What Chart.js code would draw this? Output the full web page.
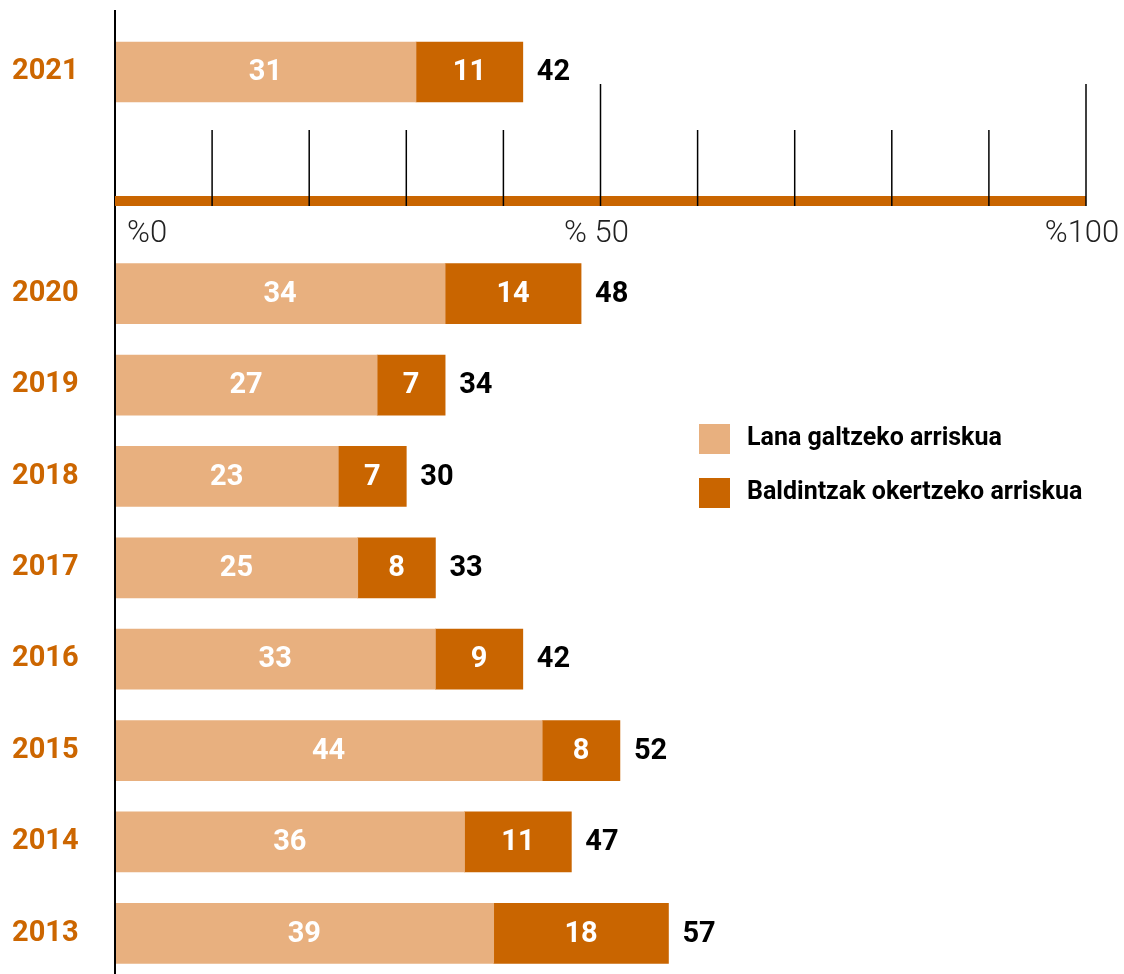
<!DOCTYPE html>
<html>
<head>
<meta charset="utf-8">
<script src="https://cdn.jsdelivr.net/npm/chart.js@4.4.1/dist/chart.umd.min.js"></script>
<style>
  html, body { margin: 0; padding: 0; background: #fff; overflow: hidden; }
  #wrap { position: relative; width: 1124px; height: 974px; overflow: hidden; }
  #wrap canvas { position: absolute; left: 0; top: 0; }
</style>
</head>
<body>
<div id="wrap">
  <canvas id="topChart" width="1124" height="248"></canvas>
  <canvas id="mainChart" width="1124" height="979"></canvas>
</div>
<script>
// 2021 sits above the percentage axis, the other years below it
const topYears = ['2021'];
const topLana = [31];
const topBaldintzak = [11];

const years = ['2020', '2019', '2018', '2017', '2016', '2015', '2014', '2013'];
const lana = [34, 27, 23, 25, 33, 44, 36, 39];
const baldintzak = [14, 7, 7, 8, 9, 8, 11, 18];

const seriesNames = ['Lana galtzeko arriskua', 'Baldintzak okertzeko arriskua'];
const axisTicks = [10, 20, 30, 40, 50, 60, 70, 80, 90, 100];
const axisMajor = [50, 100];
const axisLabelValues = [0, 50, 100];
const axisLabels = ['%0', '% 50', '%100'];

const LIGHT = '#E8B07F';
const DARK = '#C96500';
const YEAR = '#CC6600';
const FONT = 'Roboto, "DejaVu Sans", sans-serif';

// white values inside the segments, black total after the bar
const barLabels = {
  id: 'barLabels',
  afterDatasetsDraw(chart) {
    const ctx = chart.ctx;
    const sets = chart.data.datasets;
    ctx.save();
    ctx.font = '700 29px ' + FONT;
    ctx.textBaseline = 'middle';
    sets.forEach((ds, di) => {
      chart.getDatasetMeta(di).data.forEach((bar, i) => {
        ctx.fillStyle = '#fff';
        ctx.textAlign = 'center';
        ctx.fillText(ds.data[i], (bar.x + bar.base) / 2, bar.y + 1);
      });
    });
    chart.getDatasetMeta(sets.length - 1).data.forEach((bar, i) => {
      const total = sets.reduce((s, d) => s + d.data[i], 0);
      ctx.fillStyle = '#000';
      ctx.textAlign = 'left';
      ctx.fillText(total, bar.x + 14, bar.y + 1);
    });
    ctx.restore();
  }
};

// orange baseline with upward ticks and the % labels
const pctAxis = {
  id: 'pctAxis',
  afterDraw(chart, args, opts) {
    const x = chart.scales.x, ctx = chart.ctx, area = chart.chartArea;
    const x0 = x.getPixelForValue(0), x1 = x.getPixelForValue(100);
    ctx.save();
    ctx.strokeStyle = '#000';
    ctx.lineWidth = 2;
    ctx.beginPath();
    ctx.moveTo(area.left, area.bottom);
    ctx.lineTo(area.left, chart.height);
    ctx.stroke();

    ctx.fillStyle = DARK;
    ctx.fillRect(x0, opts.lineY - 5, x1 - x0, 10);

    ctx.lineWidth = 1.5;
    axisTicks.forEach(v => {
      const px = x.getPixelForValue(v);
      ctx.beginPath();
      ctx.moveTo(px, axisMajor.includes(v) ? opts.majorTop : opts.minorTop);
      ctx.lineTo(px, opts.lineY + 5);
      ctx.stroke();
    });

    ctx.font = '300 31px ' + FONT;
    ctx.fillStyle = '#222';
    ctx.textBaseline = 'middle';
    axisLabelValues.forEach((v, i) => {
      ctx.textAlign = i === 0 ? 'left' : 'center';
      ctx.fillText(axisLabels[i], x.getPixelForValue(v) + (i === 0 ? 12 : -4), opts.labelY);
    });
    ctx.restore();
  }
};

const sideLegend = {
  id: 'sideLegend',
  afterDraw(chart, args, opts) {
    const ctx = chart.ctx;
    ctx.save();
    ctx.font = '700 25px ' + FONT;
    ctx.textBaseline = 'middle';
    ctx.textAlign = 'left';
    chart.data.datasets.forEach((ds, i) => {
      const cy = opts.top + i * opts.gap;
      ctx.fillStyle = ds.backgroundColor;
      ctx.fillRect(opts.left, cy - 15, 31, 30);
      ctx.fillStyle = '#000';
      ctx.fillText(ds.label, opts.left + 48, cy);
    });
    ctx.restore();
  }
};

function makeDatasets(a, b) {
  return [
    { label: seriesNames[0], data: a, backgroundColor: LIGHT, barThickness: 60, borderWidth: 0 },
    { label: seriesNames[1], data: b, backgroundColor: DARK, barThickness: 60, borderWidth: 0 }
  ];
}

function makeOptions(padding, extraPlugins) {
  return {
    indexAxis: 'y',
    responsive: false,
    animation: false,
    layout: { padding: padding },
    scales: {
      x: { stacked: true, min: 0, max: 100, display: false },
      y: {
        stacked: true,
        grid: { display: false, drawTicks: false },
        border: { display: true, color: '#000', width: 2, z: 1 },
        ticks: { crossAlign: 'far', color: YEAR, padding: 0, font: { family: FONT, size: 29, weight: '700' } },
        afterFit(s) {
          s.width = 103;
          s.paddingTop = 0;
          s.paddingBottom = 0;
        }
      }
    },
    plugins: Object.assign({ legend: { display: false }, tooltip: { enabled: false } }, extraPlugins)
  };
}

new Chart(document.getElementById('topChart'), {
  type: 'bar',
  data: { labels: topYears, datasets: makeDatasets(topLana, topBaldintzak) },
  options: makeOptions({ top: 11, bottom: 115, left: 12, right: 38 },
    { pctAxis: { lineY: 201, minorTop: 130, majorTop: 84, labelY: 234 } }),
  plugins: [barLabels, pctAxis]
});

new Chart(document.getElementById('mainChart'), {
  type: 'bar',
  data: { labels: years, datasets: makeDatasets(lana, baldintzak) },
  options: makeOptions({ top: 248, bottom: 0, left: 12, right: 38 },
    { sideLegend: { left: 699, top: 439, gap: 54 } }),
  plugins: [barLabels, sideLegend]
});
</script>
</body>
</html>
